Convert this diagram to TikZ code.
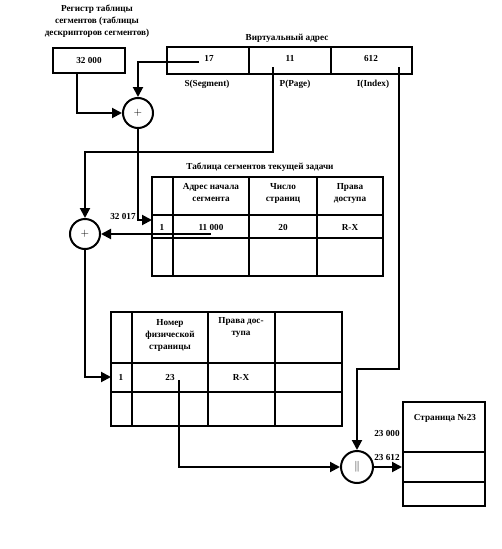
\documentclass[tikz,border=0pt]{standalone}
\usepackage{fontspec}
\setmainfont{Liberation Serif}
\usetikzlibrary{arrows.meta}

\begin{document}
\begin{tikzpicture}[x=1pt,y=-1pt,line width=2pt,
    every node/.style={inner sep=1pt,align=center,font=\bfseries\fontsize{9.2}{12}\selectfont},
    arr/.style={-{Triangle[length=10pt,width=10pt]}},
    op/.style={draw,circle,minimum size=30pt,inner sep=0pt,font=\fontsize{11}{12}\selectfont}]
  \useasboundingbox (0,0) rectangle (502,549);
  % register and virtual address
  \node (regt) at (97,21) {Регистр таблицы\\сегментов (таблицы\\дескрипторов сегментов)};
  \node[draw,minimum width=72pt,minimum height=25pt] (reg) at (89,60.5) {32 000};
  \node (vat) at (287,38) {Виртуальный адрес};
  \draw (167,47) rectangle (412,74) (249,47) -- (249,74) (331,47) -- (331,74);
  \node (n17) at (209,58) {17};
  \node (n11) at (290,58) {11};
  \node (n612) at (371,58) {612};
  \node (lS) at (207,84) {S(Segment)};
  \node (lP) at (295,84) {P(Page)};
  \node (lI) at (373,84) {I(Index)};
  % adders
  \node[op] (add1) at (138,113) {$+$};
  \node[op] (add2) at (85,234) {$+$};
  \node[op,minimum size=32pt] (cat) at (357,467) {$\|$};
  % segment table
  \node (segt) at (260,167) {Таблица сегментов текущей задачи};
  \draw (152,177) rectangle (383,276);
  \foreach \x in {173,249,317} {\draw (\x,177) -- (\x,276);}
  \foreach \y in {215,238} {\draw (152,\y) -- (383,\y);}
  \node (sh2) at (211,193) {Адрес начала\\сегмента};
  \node (sh3) at (283,193) {Число\\страниц};
  \node (sh4) at (350,193) {Права\\доступа};
  \node (s1) at (162,227) {1};
  \node (sbase) at (211,227) {11 000};
  \node (snum) at (283,227) {20};
  \node (sacc) at (350,227) {R-X};
  \node (l32) at (123,216) {32 017};
  % page table
  \draw (111,312) rectangle (342,426);
  \foreach \x in {132,208,275} {\draw (\x,312) -- (\x,426);}
  \foreach \y in {363,392} {\draw (111,\y) -- (342,\y);}
  \node (ph2) at (170,335) {Номер\\физической\\страницы};
  \node (ph3) at (241,327.5) {Права дос-\\тупа};
  \node (p1) at (121,377) {1};
  \node (pfr) at (170,377) {23};
  \node (pacc) at (241,377) {R-X};
  % page
  \node[draw,minimum width=82pt,minimum height=104pt] (page) at (444,454) {};
  \draw (403,452) -- (485,452) (403,482) -- (485,482);
  \node (pgt) at (445,418) {Страница №23};
  \node (l230) at (387,433) {23 000};
  \node (l236) at (387,457) {23 612};
  % connectors
  \coordinate (c17) at (199,62);
  \coordinate (creg) at (77,73);
  \coordinate (cP) at (273,67);
  \coordinate (cI) at (399,67);
  \coordinate (c11) at (211,234);
  \coordinate (c23) at (179,380);
  \coordinate (segin) at (152,220);
  \coordinate (pgin) at (111,377);
  \draw[arr] (c17) -| (add1);
  \draw[arr] (creg) |- (add1);
  \draw[arr] (cP) -- (273,152) -| (add2);
  \draw[arr] (add1) |- (segin);
  \draw[arr] (c11) -- (add2);
  \draw[arr] (add2) |- (pgin);
  \draw[arr] (c23) |- (cat);
  \draw[arr] (cI) -- (399,369) -| (cat);
  \draw[arr] (cat) -- (cat -| page.west);
\end{tikzpicture}
\end{document}
